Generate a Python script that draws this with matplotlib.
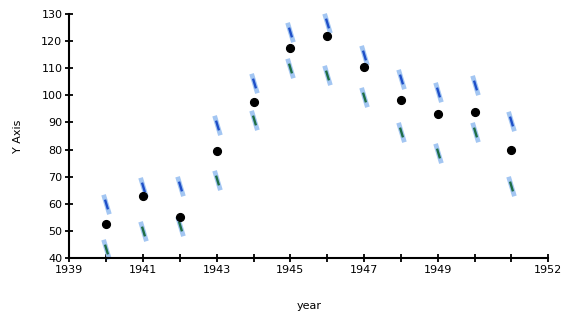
import matplotlib
matplotlib.use("Agg")
import matplotlib.pyplot as plt
from matplotlib.path import Path

years = [1940, 1941, 1942, 1943, 1944, 1945, 1946, 1947, 1948, 1949, 1950, 1951]
values = [52.5, 62.8, 54.9, 79.4, 97.6, 117.7, 121.9, 110.4, 98.3, 93.3, 94.0, 79.7]
upper = [60.0, 66.3, 66.5, 88.9, 104.7, 123.4, 126.6, 114.8, 106.2, 101.2, 103.7, 90.5]
lower = [43.2, 49.8, 51.6, 68.9, 90.8, 110.2, 107.7, 99.4, 86.5, 78.7, 86.4, 66.4]

xticks = list(range(1939, 1953))
xlabels = {1939: "1939", 1941: "1941", 1943: "1943", 1945: "1945",
           1947: "1947", 1949: "1949", 1952: "1952"}
yticks = list(range(40, 131, 10))

W, H = 570, 319
fig = plt.figure(figsize=(W / 100, H / 100), dpi=100)
ax = fig.add_axes([69.3 / W, 1 - 257.7 / H, (548.3 - 69.3) / W, (257.7 - 14.3) / H])

slash = Path([(-0.15, 0.5), (0.15, -0.5)], [Path.MOVETO, Path.LINETO])

light = "#a3c6f2"
for ys, dark in [(upper, "#1f4fc8"), (lower, "#1e6e46")]:
    ax.plot(years, ys, linestyle="none", marker=slash, markersize=14,
            markeredgewidth=3.4, markeredgecolor=light, clip_on=False, zorder=2)
    ax.plot(years, ys, linestyle="none", marker=slash, markersize=7,
            markeredgewidth=1.7, markeredgecolor=dark, clip_on=False, zorder=3)

ax.plot(years, values, linestyle="none", marker="o", markersize=5.6,
        color="black", clip_on=False, zorder=4)

ax.set_xlim(1939, 1952)
ax.set_ylim(40, 130)
ax.set_xticks(xticks)
ax.set_xticklabels([xlabels.get(t, "") for t in xticks])
ax.set_yticks(yticks)

for s in ["top", "right"]:
    ax.spines[s].set_visible(False)
for s in ["left", "bottom"]:
    ax.spines[s].set_linewidth(1.5)
    ax.spines[s].set_color("black")
ax.tick_params(direction="inout", length=6, width=1.3, labelsize=8,
               colors="black", pad=2)

ax.set_xlabel("year", fontsize=8, labelpad=19)
ax.set_ylabel("Y Axis", fontsize=8, labelpad=13)

fig.savefig("out.png", dpi=100)
